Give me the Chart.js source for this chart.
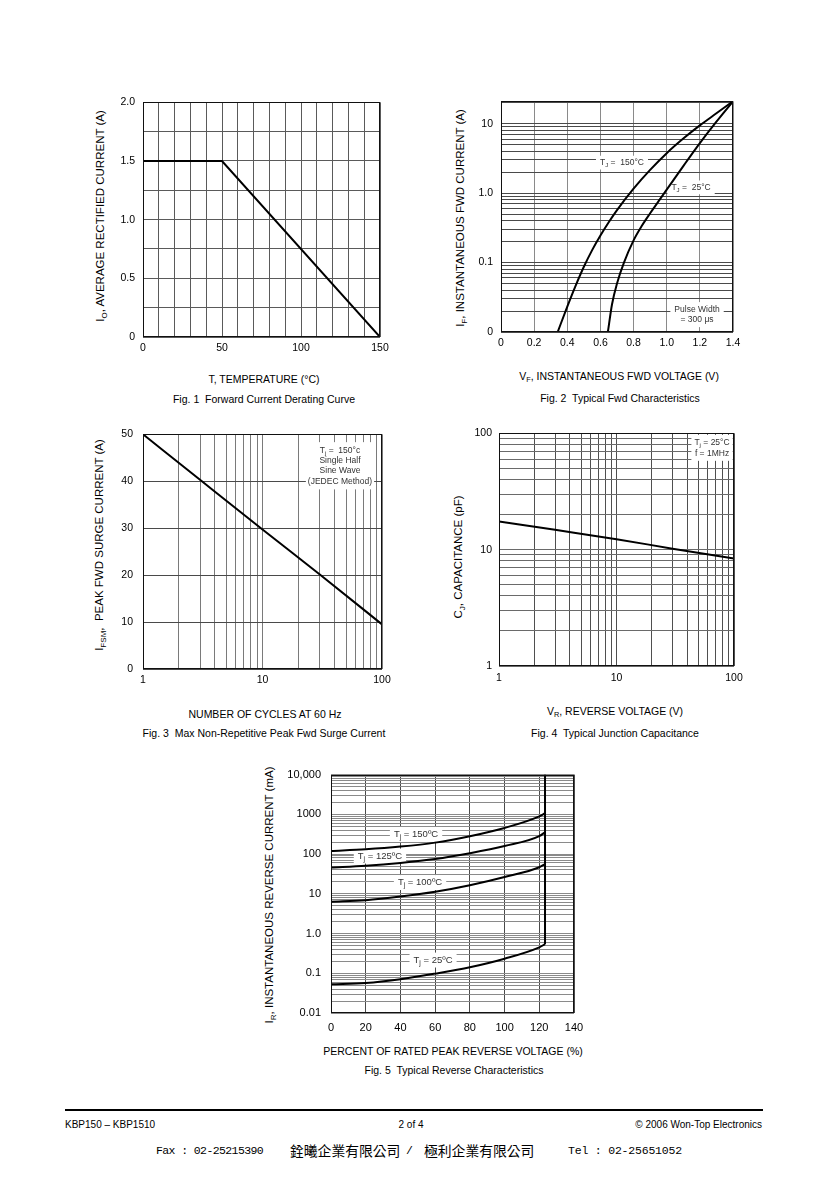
<!DOCTYPE html>
<html><head><meta charset="utf-8">
<script src="https://cdn.jsdelivr.net/npm/chart.js@4.4.0/dist/chart.umd.min.js"></script>
<style>
html,body{margin:0;padding:0;background:#fff;}
body{width:840px;height:1189px;position:relative;overflow:hidden;font-family:"Liberation Sans",Arial,sans-serif;color:#000;}
canvas{position:absolute;}
.t{position:absolute;white-space:nowrap;font-size:10.5px;line-height:1;transform:translate(-50%,-50%);}
.rot{transform:translate(-50%,-50%) rotate(-90deg);font-size:11.5px;}
.t sub{font-size:0.7em;vertical-align:-0.3em;line-height:0;}
.l{transform:translate(0,-50%);}
.r{transform:translate(-100%,-50%);}
.rule{position:absolute;left:65px;top:1109px;width:698px;height:2px;background:#000;}
.cjk{font-family:"Noto Sans CJK TC",sans-serif;font-size:13.8px;}
.mono{font-family:"Liberation Mono",monospace;font-size:11.5px;letter-spacing:-0.6px;}
</style></head><body>

<div class="t rot" style="left:101px;top:216px">I<sub>O</sub>, AVERAGE RECTIFIED CURRENT (A)</div>
<div class="t" style="left:264px;top:379px">T, TEMPERATURE (°C)</div>
<div class="t" style="left:264px;top:399px">Fig. 1&nbsp; Forward Current Derating Curve</div>

<div class="t rot" style="left:461px;top:218px">I<sub>F</sub>, INSTANTANEOUS FWD CURRENT (A)</div>
<div class="t" style="left:619px;top:376px">V<sub>F</sub>, INSTANTANEOUS FWD VOLTAGE (V)</div>
<div class="t" style="left:620px;top:398px">Fig. 2&nbsp; Typical Fwd Characteristics</div>

<div class="t rot" style="left:100px;top:545px">I<sub>FSM</sub>,&nbsp; PEAK FWD SURGE CURRENT (A)</div>
<div class="t" style="left:265px;top:714px">NUMBER OF CYCLES AT 60 Hz</div>
<div class="t" style="left:264px;top:733px">Fig. 3&nbsp; Max Non-Repetitive Peak Fwd Surge Current</div>

<div class="t rot" style="left:459px;top:557px">C<sub>J</sub>, CAPACITANCE (pF)</div>
<div class="t" style="left:615px;top:711px">V<sub>R</sub>, REVERSE VOLTAGE (V)</div>
<div class="t" style="left:615px;top:733px">Fig. 4&nbsp; Typical Junction Capacitance</div>

<div class="t rot" style="left:270px;top:895px">I<sub>R</sub>, INSTANTANEOUS REVERSE CURRENT (mA)</div>
<div class="t" style="left:453px;top:1051px">PERCENT OF RATED PEAK REVERSE VOLTAGE (%)</div>
<div class="t" style="left:454px;top:1070px">Fig. 5&nbsp; Typical Reverse Characteristics</div>

<div class="rule"></div>
<div class="t l" style="left:65px;top:1125px;font-size:10px">KBP150 – KBP1510</div>
<div class="t" style="left:411px;top:1125px;font-size:10px">2 of 4</div>
<div class="t r" style="left:762px;top:1125px;font-size:10px">© 2006 Won-Top Electronics</div>

<div class="t l mono" style="left:156px;top:1151px">Fax : 02-25215390</div>
<div class="t l cjk" style="left:290px;top:1151px">銓曦企業有限公司</div>
<div class="t l mono" style="left:406px;top:1151px">/</div>
<div class="t l cjk" style="left:424px;top:1151px">極利企業有限公司</div>
<div class="t l mono" style="left:568px;top:1151px;letter-spacing:-0.2px">Tel : 02-25651052</div>

<script>
// ---------- DATA ----------
// Fig. 1 Forward Current Derating Curve
const fig1Temperature = [0, 50, 150];
const fig1Current = [1.5, 1.5, 0];
const fig1XLabelValues = [0, 50, 100, 150];
const fig1XLabels = ['0', '50', '100', '150'];
const fig1YLabelValues = [0, 0.5, 1.0, 1.5, 2.0];
const fig1YLabels = ['0', '0.5', '1.0', '1.5', '2.0'];

// Fig. 2 Typical Fwd Characteristics
const fig2Voltage150 = [0.342, 0.4, 0.45, 0.5, 0.55, 0.6, 0.65, 0.7, 0.8, 0.9, 1.0, 1.1, 1.2, 1.3, 1.4];
const fig2Current150 = [0.01, 0.0232, 0.0462, 0.087, 0.151, 0.245, 0.38, 0.569, 1.16, 2.16, 3.76, 6.1, 9.44, 14.1, 21];
const fig2Voltage25 = [0.645, 0.67, 0.7, 0.742, 0.8, 0.85, 0.9, 0.95, 1.0, 1.1, 1.2, 1.3, 1.4];
const fig2Current25 = [0.01, 0.0251, 0.0501, 0.1, 0.209, 0.339, 0.513, 0.759, 1.12, 2.45, 5.25, 10.7, 21];
const fig2XLabelValues = [0, 0.2, 0.4, 0.6, 0.8, 1.0, 1.2, 1.4];
const fig2XLabels = ['0', '0.2', '0.4', '0.6', '0.8', '1.0', '1.2', '1.4'];
const fig2YLabelValues = [0.01, 0.1, 1, 10];
const fig2YLabels = ['0', '0.1', '1.0', '10'];

// Fig. 3 Max Non-Repetitive Peak Fwd Surge Current
const fig3Cycles = [1, 3, 10, 30, 100];
const fig3Current = [50, 40.3, 29.7, 20.2, 9.5];
const fig3XLabelValues = [1, 10, 100];
const fig3XLabels = ['1', '10', '100'];
const fig3YLabelValues = [0, 10, 20, 30, 40, 50];
const fig3YLabels = ['0', '10', '20', '30', '40', '50'];

// Fig. 4 Typical Junction Capacitance
const fig4Voltage = [1, 3, 10, 30, 100];
const fig4Capacitance = [17.5, 14.8, 12.3, 10.2, 8.4];
const fig4XLabelValues = [1, 10, 100];
const fig4XLabels = ['1', '10', '100'];
const fig4YLabelValues = [1, 10, 100];
const fig4YLabels = ['1', '10', '100'];

// Fig. 5 Typical Reverse Characteristics
const fig5Percent = [0, 20, 40, 60, 80, 100, 120, 123.3];
const fig5Current150 = [120, 132, 154, 194, 282, 455, 890, 1070];
const fig5Current125 = [46, 51, 60, 75, 105, 159, 282, 355];
const fig5Current100 = [6.3, 6.9, 8.5, 11.2, 16.4, 26.4, 46.6, 56];
const fig5Current25 = [0.053, 0.057, 0.071, 0.098, 0.142, 0.233, 0.45, 0.54];
const fig5BreakdownPercent = [123.3, 123.3];
const fig5BreakdownCurrent = [0.54, 10000];
const fig5XLabelValues = [0, 20, 40, 60, 80, 100, 120, 140];
const fig5XLabels = ['0', '20', '40', '60', '80', '100', '120', '140'];
const fig5YLabelValues = [0.01, 0.1, 1, 10, 100, 1000, 10000];
const fig5YLabels = ['0.01', '0.1', '1.0', '10', '100', '1000', '10,000'];

// ---------- HELPERS ----------
const FONT = '"Liberation Sans", Arial, sans-serif';
function pts(xs, ys) { return xs.map((x, i) => ({ x: x, y: ys[i] })); }
function logGrid(min, max) {
  const out = [];
  for (let e = Math.floor(Math.log10(min)); Math.pow(10, e) <= max * 1.0001; e++) {
    for (let m = 1; m < 10; m++) {
      const v = +(m * Math.pow(10, e)).toPrecision(6);
      if (v >= min * 0.9999 && v <= max * 1.0001) out.push(v);
    }
  }
  if (out[out.length - 1] < max * 0.9999) out.push(max);
  return out;
}
function linGrid(min, max, step) {
  const out = [];
  for (let v = min; v <= max + step * 1e-6; v += step) out.push(+v.toFixed(6));
  return out;
}
function labeler(values, labels) {
  return function (v) {
    const i = values.findIndex(t => Math.abs(t - v) <= Math.max(Math.abs(t), 1e-9) * 1e-6 + 1e-12);
    return i >= 0 ? labels[i] : '';
  };
}
function richSegs(ctx, str, size) {
  const segs = []; const re = /_\{([^}]*)\}/g; let last = 0, m;
  while ((m = re.exec(str))) {
    if (m.index > last) segs.push({ t: str.slice(last, m.index), sub: false });
    segs.push({ t: m[1], sub: true }); last = re.lastIndex;
  }
  if (last < str.length) segs.push({ t: str.slice(last), sub: false });
  let w = 0;
  segs.forEach(s => { ctx.font = (s.sub ? size * 0.72 : size) + 'px ' + FONT; s.w = ctx.measureText(s.t).width; w += s.w; });
  return { segs, w };
}

const framePlugin = {
  id: 'frame',
  beforeDatasetsDraw(chart) {
    const notes = chart.options.plugins.frame.notes || [];
    const ctx = chart.ctx;
    const xs = chart.scales.x, ys = chart.scales.y;
    notes.forEach(n => {
      const size = n.size || 9, lh = n.lh || size * 1.15;
      const cx = xs.getPixelForValue(n.x), cy = ys.getPixelForValue(n.y);
      const rows = n.lines.map(l => richSegs(ctx, l, size));
      const w = Math.max(...rows.map(r => r.w)) + (n.padX || 4) * 2;
      const h = rows.length * lh + (n.padY || 2) * 2;
      ctx.save();
      ctx.fillStyle = '#fff';
      ctx.fillRect(cx - w / 2, cy - h / 2, w, h);
      ctx.fillStyle = '#333';
      ctx.textBaseline = 'middle';
      ctx.textAlign = 'left';
      rows.forEach((r, i) => {
        let x = cx - r.w / 2;
        const y = cy - (rows.length * lh) / 2 + lh * (i + 0.5);
        r.segs.forEach(s => {
          ctx.font = (s.sub ? size * 0.72 : size) + 'px ' + FONT;
          ctx.fillText(s.t, x, s.sub ? y + size * 0.3 : y);
          x += s.w;
        });
      });
      ctx.restore();
    });
  },
  afterDatasetsDraw(chart) {
    const a = chart.chartArea, ctx = chart.ctx;
    ctx.save();
    ctx.strokeStyle = '#111';
    ctx.lineWidth = 1;
    ctx.strokeRect(Math.round(a.left) + 0.5, Math.round(a.top) + 0.5, Math.round(a.right - a.left) - 1, Math.round(a.bottom - a.top) - 1);
    ctx.restore();
  }
};

const YW = 60, PT = 12, PR = 24, XH = 30;

function makeChart(c) {
  const r = c.rect;
  const cv = document.createElement('canvas');
  const W = YW + (r.R - r.L) + PR, H = PT + (r.B - r.T) + XH;
  cv.width = W; cv.height = H;
  cv.style.left = (r.L - YW) + 'px'; cv.style.top = (r.T - PT) + 'px';
  cv.style.width = W + 'px'; cv.style.height = H + 'px';
  document.body.appendChild(cv);
  function axis(a, isX) {
    return {
      type: a.type, min: a.min, max: a.max,
      afterBuildTicks: s => { s.ticks = a.grid.map(v => ({ value: v })); },
      afterFit: s => { if (isX) s.height = XH; else s.width = YW; },
      ticks: {
        autoSkip: false, maxRotation: 0, minRotation: 0,
        padding: a.pad, color: '#000',
        font: { family: FONT, size: a.fontSize || 10.5 },
        callback: labeler(a.labelValues, a.labels)
      },
      grid: { color: a.gridColor, lineWidth: 1, drawTicks: false },
      border: { display: false }
    };
  }
  return new Chart(cv, {
    type: 'line',
    data: { datasets: c.datasets.map(d => Object.assign({
      borderColor: '#000', borderWidth: 2, pointRadius: 0, fill: false,
      cubicInterpolationMode: 'monotone'
    }, d)) },
    options: {
      responsive: false, animation: false, events: [],
      devicePixelRatio: 1,
      layout: { padding: { top: PT, right: PR, left: 0, bottom: 0 } },
      plugins: { legend: { display: false }, tooltip: { enabled: false }, frame: { notes: c.notes || [] } },
      scales: { x: axis(c.x, true), y: axis(c.y, false) }
    },
    plugins: [framePlugin]
  });
}

// ---------- CHARTS ----------
makeChart({
  rect: { L: 143, T: 100, R: 380, B: 337 },
  x: { type: 'linear', min: 0, max: 150, grid: linGrid(0, 150, 10), labelValues: fig1XLabelValues, labels: fig1XLabels, gridColor: '#5a5a5a', pad: 5 },
  y: { type: 'linear', min: 0, max: 2, grid: linGrid(0, 2, 0.25), labelValues: fig1YLabelValues, labels: fig1YLabels, gridColor: '#5a5a5a', pad: 8 },
  datasets: [{ data: pts(fig1Temperature, fig1Current), cubicInterpolationMode: 'default', tension: 0 }]
});

makeChart({
  rect: { L: 501, T: 99, R: 733, B: 332 },
  x: { type: 'linear', min: 0, max: 1.4, grid: linGrid(0, 1.4, 0.2), labelValues: fig2XLabelValues, labels: fig2XLabels, gridColor: '#8a8a8a', pad: 5 },
  y: { type: 'logarithmic', min: 0.01, max: 21, grid: logGrid(0.01, 21), labelValues: fig2YLabelValues, labels: fig2YLabels, gridColor: '#4a4a4a', pad: 8 },
  datasets: [
    { data: pts(fig2Voltage150, fig2Current150) },
    { data: pts(fig2Voltage25, fig2Current25) }
  ],
  notes: [
    { x: 0.73, y: 2.75, lines: ['T_{J} =  150°C'], size: 8.5 },
    { x: 1.147, y: 1.21, lines: ['T_{J} =  25°C'], size: 8.5 },
    { x: 1.183, y: 0.0178, lines: ['Pulse Width', '= 300 μs'], size: 8.5, lh: 10.5 }
  ]
});

makeChart({
  rect: { L: 143, T: 430, R: 382, B: 669 },
  x: { type: 'logarithmic', min: 1, max: 100, grid: logGrid(1, 100), labelValues: fig3XLabelValues, labels: fig3XLabels, gridColor: '#7a7a7a', pad: 5 },
  y: { type: 'linear', min: 0, max: 50, grid: linGrid(0, 50, 10), labelValues: fig3YLabelValues, labels: fig3YLabels, gridColor: '#4a4a4a', pad: 10 },
  datasets: [{ data: pts(fig3Cycles, fig3Current) }],
  notes: [
    { x: 44.5, y: 43.3, lines: ['T_{j} =  150°c', 'Single Half', 'Sine Wave', '(JEDEC Method)'], size: 8.5, lh: 10.3, padX: 2, padY: 3 }
  ]
});

makeChart({
  rect: { L: 499, T: 432, R: 734, B: 666 },
  x: { type: 'logarithmic', min: 1, max: 100, grid: logGrid(1, 100), labelValues: fig4XLabelValues, labels: fig4XLabels, gridColor: '#4f4f4f', pad: 6 },
  y: { type: 'logarithmic', min: 1, max: 100, grid: logGrid(1, 100), labelValues: fig4YLabelValues, labels: fig4YLabels, gridColor: '#6a6a6a', pad: 7 },
  datasets: [{ data: pts(fig4Voltage, fig4Capacitance) }],
  notes: [
    { x: 65, y: 75, lines: ['T_{j} = 25°C', 'f = 1MHz'], size: 8.5, lh: 11, padX: 3 }
  ]
});

makeChart({
  rect: { L: 331, T: 770, R: 574, B: 1013 },
  x: { type: 'linear', min: 0, max: 140, grid: linGrid(0, 140, 20), labelValues: fig5XLabelValues, labels: fig5XLabels, gridColor: '#4a4a4a', pad: 8, fontSize: 11 },
  y: { type: 'logarithmic', min: 0.01, max: 10000, grid: logGrid(0.01, 10000), labelValues: fig5YLabelValues, labels: fig5YLabels, gridColor: '#8a8a8a', pad: 10, fontSize: 11 },
  datasets: [
    { data: pts(fig5Percent, fig5Current150) },
    { data: pts(fig5Percent, fig5Current125) },
    { data: pts(fig5Percent, fig5Current100) },
    { data: pts(fig5Percent, fig5Current25) },
    { data: pts(fig5BreakdownPercent, fig5BreakdownCurrent), cubicInterpolationMode: 'default', tension: 0 }
  ],
  notes: [
    { x: 49, y: 312, lines: ['T_{j} = 150ºC'], size: 9.5 },
    { x: 28.2, y: 89, lines: ['T_{j} = 125ºC'], size: 9.5 },
    { x: 51.3, y: 19.2, lines: ['T_{j} = 100ºC'], size: 9.5 },
    { x: 58.8, y: 0.215, lines: ['T_{j} = 25ºC'], size: 9.5 }
  ]
});
</script>
</body></html>
